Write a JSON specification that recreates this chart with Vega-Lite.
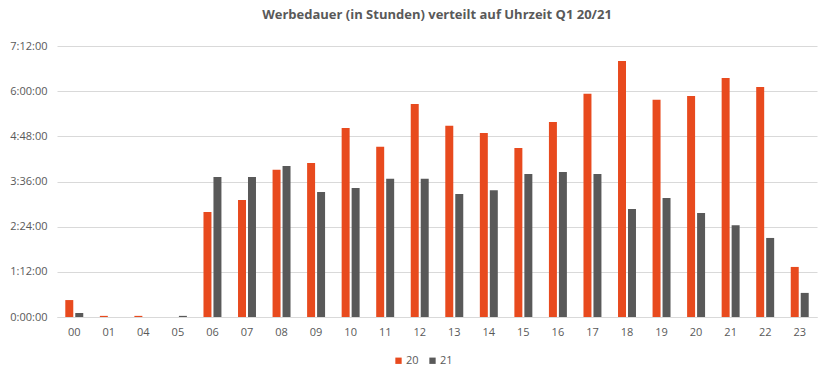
{
  "$schema": "https://vega.github.io/schema/vega-lite/v6.json",
  "width": 760,
  "height": 271,
  "autosize": {"type": "none"},
  "padding": {"left": 57, "top": 46, "right": 15, "bottom": 62},
  "background": "white",
  "title": {
    "text": "Werbedauer (in Stunden) verteilt auf Uhrzeit Q1 20/21",
    "font": "Open Sans",
    "fontSize": 13,
    "fontWeight": "bold",
    "color": "#595959",
    "anchor": "middle",
    "offset": 18
  },
  "data": {
    "values": [
      {"h": "00", "j": "20", "v": 0.45}, {"h": "00", "j": "21", "v": 0.106},
      {"h": "01", "j": "20", "v": 0.03}, {"h": "01", "j": "21", "v": 0},
      {"h": "04", "j": "20", "v": 0.03}, {"h": "04", "j": "21", "v": 0},
      {"h": "05", "j": "20", "v": 0}, {"h": "05", "j": "21", "v": 0.03},
      {"h": "06", "j": "20", "v": 2.79}, {"h": "06", "j": "21", "v": 3.72},
      {"h": "07", "j": "20", "v": 3.11}, {"h": "07", "j": "21", "v": 3.72},
      {"h": "08", "j": "20", "v": 3.91}, {"h": "08", "j": "21", "v": 4.01},
      {"h": "09", "j": "20", "v": 4.09}, {"h": "09", "j": "21", "v": 3.32},
      {"h": "10", "j": "20", "v": 5.02}, {"h": "10", "j": "21", "v": 3.43},
      {"h": "11", "j": "20", "v": 4.52}, {"h": "11", "j": "21", "v": 3.67},
      {"h": "12", "j": "20", "v": 5.66}, {"h": "12", "j": "21", "v": 3.67},
      {"h": "13", "j": "20", "v": 5.08}, {"h": "13", "j": "21", "v": 3.27},
      {"h": "14", "j": "20", "v": 4.89}, {"h": "14", "j": "21", "v": 3.37},
      {"h": "15", "j": "20", "v": 4.49}, {"h": "15", "j": "21", "v": 3.80},
      {"h": "16", "j": "20", "v": 5.18}, {"h": "16", "j": "21", "v": 3.85},
      {"h": "17", "j": "20", "v": 5.93}, {"h": "17", "j": "21", "v": 3.80},
      {"h": "18", "j": "20", "v": 6.80}, {"h": "18", "j": "21", "v": 2.87},
      {"h": "19", "j": "20", "v": 5.77}, {"h": "19", "j": "21", "v": 3.16},
      {"h": "20", "j": "20", "v": 5.87}, {"h": "20", "j": "21", "v": 2.76},
      {"h": "21", "j": "20", "v": 6.35}, {"h": "21", "j": "21", "v": 2.44},
      {"h": "22", "j": "20", "v": 6.11}, {"h": "22", "j": "21", "v": 2.10},
      {"h": "23", "j": "20", "v": 1.33}, {"h": "23", "j": "21", "v": 0.64}
    ]
  },
  "mark": {"type": "bar"},
  "encoding": {
    "x": {
      "field": "h", "type": "nominal", "title": null,
      "scale": {"paddingInner": 0.48, "paddingOuter": 0.24},
      "axis": {
        "labelAngle": 0, "labelFont": "Open Sans", "labelFontSize": 11,
        "labelColor": "#595959", "ticks": false, "domain": true,
        "domainColor": "#D9D9D9", "labelPadding": 9
      }
    },
    "xOffset": {
      "field": "j", "type": "nominal",
      "scale": {"paddingInner": 0.2, "paddingOuter": 0}
    },
    "y": {
      "field": "v", "type": "quantitative", "title": null,
      "scale": {"domain": [0, 7.2], "nice": false},
      "axis": {
        "values": [0, 1.2, 2.4, 3.6, 4.8, 6, 7.2],
        "labelExpr": "floor(datum.value + 0.0001) + ':' + (round((datum.value - floor(datum.value + 0.0001)) * 60) < 10 ? '0' : '') + round((datum.value - floor(datum.value + 0.0001)) * 60) + ':00'",
        "labelFont": "Open Sans", "labelFontSize": 11, "labelColor": "#595959",
        "ticks": false, "domain": false, "gridColor": "#D9D9D9", "labelPadding": 10
      }
    },
    "color": {
      "field": "j", "type": "nominal", "title": null,
      "scale": {"domain": ["20", "21"], "range": ["#E84A1E", "#595959"]},
      "legend": {
        "orient": "none", "legendX": 336, "legendY": 309,
        "direction": "horizontal", "symbolType": "square",
        "symbolSize": 40, "labelFont": "Open Sans", "labelFontSize": 11,
        "labelColor": "#595959", "columnPadding": 8, "symbolStrokeWidth": 0,
        "labelOffset": 2
      }
    }
  },
  "config": {"view": {"stroke": null}}
}
